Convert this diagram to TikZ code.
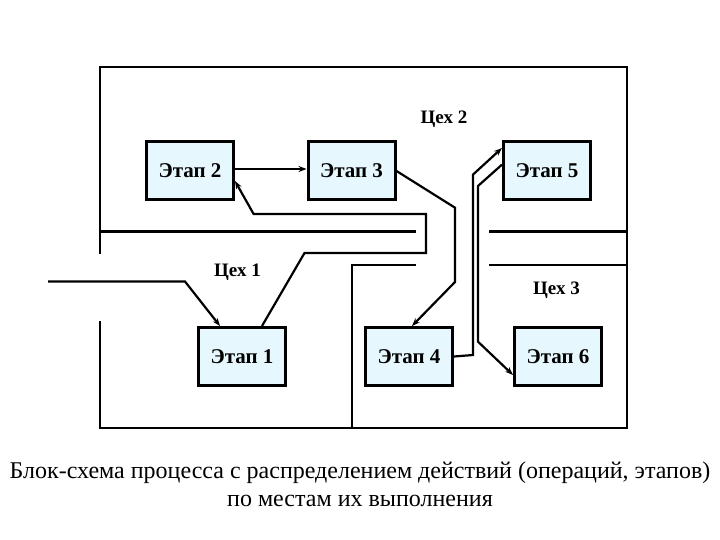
\documentclass[tikz,border=0pt]{standalone}
\usepackage{fontspec}
\setmainfont{Liberation Serif}
\usetikzlibrary{arrows.meta}
\begin{document}
\begin{tikzpicture}[x=1pt,y=-1pt,
 wall/.style={line width=2.6pt,line cap=rect},
 conn/.style={line width=2.2pt,-{Stealth[length=8pt,width=6pt]}},
 stage/.style={draw,line width=3pt,fill=cyan!10,minimum width=87pt,minimum height=58pt,anchor=north west,inner sep=0pt,font=\fontsize{21}{24}\selectfont\bfseries},
 lab/.style={font=\fontsize{19}{22}\selectfont\bfseries}]
\useasboundingbox (0,0) rectangle (720,540);
% walls
\draw[wall] (100,253) -- (100,67) -- (627,67) -- (627,428) -- (100,428) -- (100,322);
\draw[wall] (100,231.5) -- (415,231.5);
\draw[wall] (490,231.5) -- (627,231.5);
\draw[wall] (490,265) -- (627,265);
\draw[wall] (415,265) -- (352,265) -- (352,428);
% stages
\node[stage] (s2) at (145,140) {Этап 2};
\node[stage] (s3) at (306.5,140) {Этап 3};
\node[stage] (s5) at (502,140) {Этап 5};
\node[stage] (s1) at (197,326) {Этап 1};
\node[stage] (s4) at (364,326) {Этап 4};
\node[stage] (s6) at (513,326) {Этап 6};
% labels
\node[lab] (c2) at (444,119) {Цех 2};
\node[lab] (c1) at (237.5,272) {Цех 1};
\node[lab] (c3) at (556.5,290.5) {Цех 3};
% connectors
\coordinate (in) at (48,281.5);
\draw[conn] (in) -- (185,281.5) -- (s1.north west -| 220,0);
\draw[conn] (s1.north west -| 262,0) -- (304.5,253) -- (426,253) -- (426,214) -- (253.6,214) -- (s2.north east |- 0,181);
\draw[conn] (s2.east |- 0,169) -- (s3.west |- 0,169);
\draw[conn] (s3.north east |- 0,171) -- (455,207.7) -- (455,282) -- (s4.north west -| 412,0);
\draw[conn] (s4.east) -- (473,355) -- (473,174.6) -- (s5.north west |- 0,148);
\draw[conn] (s5.north west |- 0,164.6) -- (478,186) -- (478,341.7) -- (s6.north west |- 0,375);
% caption
\node[font=\fontsize{24}{28}\selectfont,align=center] (cap) at (360,484) {Блок-схема процесса с распределением действий (операций, этапов)\\по местам их выполнения};
\end{tikzpicture}
\end{document}
